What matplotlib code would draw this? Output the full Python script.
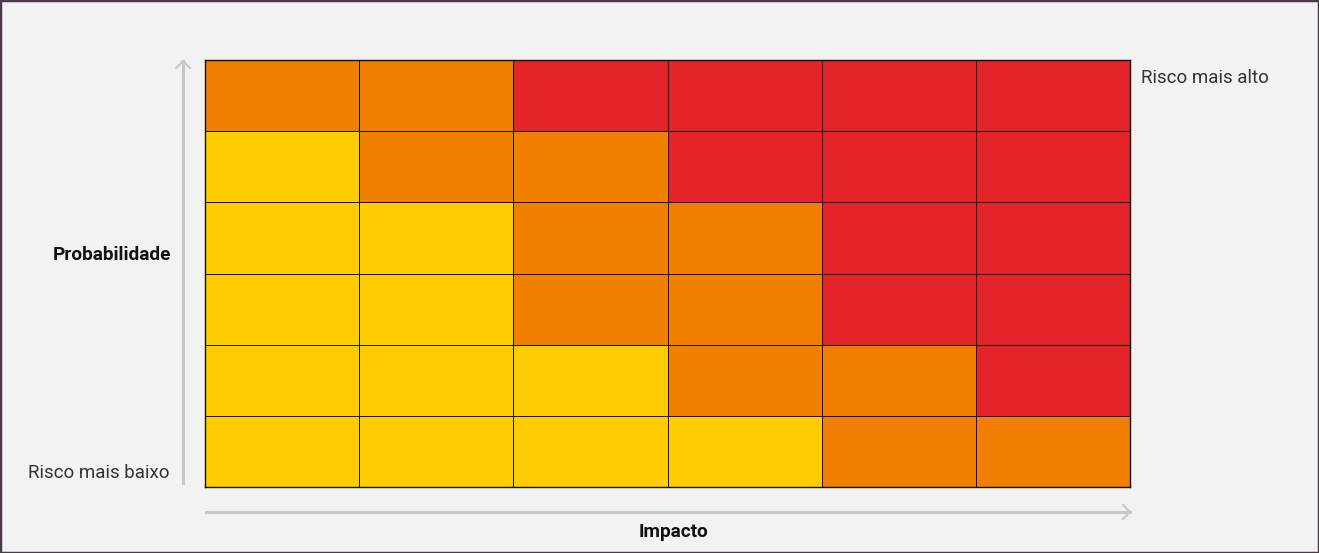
import matplotlib
matplotlib.use("Agg")
import matplotlib.pyplot as plt
from matplotlib.colors import ListedColormap, BoundaryNorm
from matplotlib.patches import Rectangle
import numpy as np

# Risk level per cell: 0 = low (yellow), 1 = medium (orange), 2 = high (red)
# Rows listed from the lowest probability (bottom) to the highest (top);
# columns from lowest to highest impact.
impact_levels = [1, 2, 3, 4, 5, 6]
probability_levels = [1, 2, 3, 4, 5, 6]
risk_rows = [
    [0, 0, 0, 0, 1, 1],
    [0, 0, 0, 1, 1, 2],
    [0, 0, 1, 1, 2, 2],
    [0, 0, 1, 1, 2, 2],
    [0, 1, 1, 2, 2, 2],
    [1, 1, 2, 2, 2, 2],
]
risk_colors = ["#FFCC00", "#F07F00", "#E5242A"]

x_label = "Impacto"
y_label = "Probabilidade"
low_label = "Risco mais baixo"
high_label = "Risco mais alto"

W, H = 1319, 553
fig = plt.figure(figsize=(W / 100, H / 100), dpi=100)
fig.patch.set_facecolor("#F2F2F2")

def fx(px):
    return px / W

def fy(py):
    return 1 - py / H

# Heatmap grid
left, right, top, bottom = 205, 1130, 60, 487
ax = fig.add_axes([fx(left), fy(bottom), fx(right - left), (bottom - top) / H])
cmap = ListedColormap(risk_colors)
norm = BoundaryNorm([-0.5, 0.5, 1.5, 2.5], cmap.N)
xe = np.arange(len(impact_levels) + 1)
ye = np.arange(len(probability_levels) + 1)
ax.pcolormesh(xe, ye, np.array(risk_rows), cmap=cmap, norm=norm,
              edgecolors="#111111", linewidth=0.6)
ax.set_xlim(0, len(impact_levels))
ax.set_ylim(0, len(probability_levels))
ax.set_xticks([])
ax.set_yticks([])
for s in ax.spines.values():
    s.set_color("#111111")
    s.set_linewidth(1.0)

# Axis arrows
arrow_color = "#C8C8C8"
fig.add_artist(plt.Line2D([fx(183), fx(183)], [fy(483), fy(61)],
                          color=arrow_color, lw=2.2, transform=fig.transFigure))
fig.add_artist(plt.Line2D([fx(176), fx(183), fx(190)], [fy(68), fy(61), fy(68)],
                          color=arrow_color, lw=1.5, transform=fig.transFigure))
fig.add_artist(plt.Line2D([fx(206), fx(1130)], [fy(512), fy(512)],
                          color=arrow_color, lw=2.2, transform=fig.transFigure))
fig.add_artist(plt.Line2D([fx(1123), fx(1130), fx(1123)], [fy(505), fy(512), fy(519)],
                          color=arrow_color, lw=1.5, transform=fig.transFigure))

# Labels
fig.text(fx(171), fy(255), y_label, ha="right", va="center",
         fontfamily="Roboto", fontweight="bold", fontsize=13.7, color="#111111")
fig.text(fx(673), fy(532), x_label, ha="center", va="center",
         fontfamily="Roboto", fontweight="bold", fontsize=13.7, color="#111111")
fig.text(fx(170), fy(473), low_label, ha="right", va="center",
         fontfamily="Roboto", fontweight="normal", fontsize=13.5, color="#333333")
fig.text(fx(1141), fy(78), high_label, ha="left", va="center",
         fontfamily="Roboto", fontweight="normal", fontsize=13.5, color="#333333")

# Outer frame
fig.add_artist(Rectangle((0, 0), 1, 1, transform=fig.transFigure, fill=False,
                         edgecolor="#4A3A4A", linewidth=2.5))

fig.savefig("out.png", dpi=100, facecolor=fig.get_facecolor())
